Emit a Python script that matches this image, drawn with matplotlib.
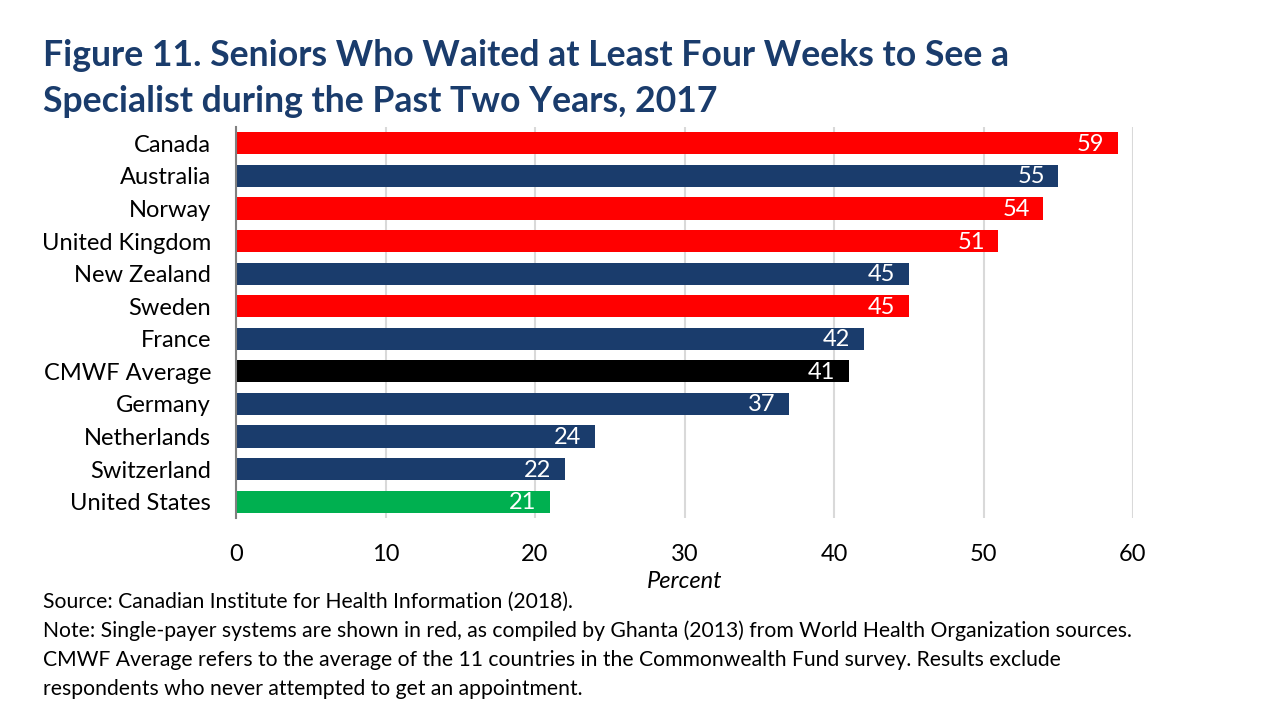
import matplotlib
matplotlib.use("Agg")
import matplotlib.pyplot as plt

plt.rcParams['font.family'] = ['Lato', 'DejaVu Sans']

countries = ["Canada", "Australia", "Norway", "United Kingdom", "New Zealand",
             "Sweden", "France", "CMWF Average", "Germany", "Netherlands",
             "Switzerland", "United States"]
values = [59, 55, 54, 51, 45, 45, 42, 41, 37, 24, 22, 21]
groups = ["single", "other", "single", "single", "other", "single", "other",
          "average", "other", "other", "other", "us"]
xticks = [0, 10, 20, 30, 40, 50, 60]

group_colors = {"single": "#ff0000", "other": "#1a3c6c",
                "average": "#000000", "us": "#00b050"}
navy_text = "#1a3c6c"

W, H = 1284, 722
fig = plt.figure(figsize=(W / 100, H / 100), dpi=100)

# axes placed in pixel coords
left, right, top, bottom = 236, 1133, 127, 518
ax = fig.add_axes([left / W, 1 - bottom / H, (right - left) / W, (bottom - top) / H])

ypos = list(range(len(countries)))
colors = [group_colors[g] for g in groups]
ax.barh(ypos, values, height=0.68, color=colors, zorder=3)

for y, v in zip(ypos, values):
    ax.text(v - 0.9, y + 0.03, str(v), ha="right", va="center", color="white",
            fontsize=17, zorder=4)

ax.set_xlim(0, 60)
ax.set_ylim(len(countries) - 0.5, -0.5)
ax.set_yticks(ypos)
ax.set_yticklabels(countries, fontsize=17)
ax.set_xticks(xticks)
ax.set_xticklabels([str(t) for t in xticks], fontsize=17)
ax.tick_params(axis="y", length=0, pad=18)
ax.tick_params(axis="x", length=0, pad=19)
ax.set_xlabel("Percent", fontsize=17, style="italic", labelpad=4)

ax.grid(axis="x", color="#d9d9d9", linewidth=1.5, zorder=0)
for s in ["top", "right", "bottom"]:
    ax.spines[s].set_visible(False)
ax.spines["left"].set_color("#808080")
ax.spines["left"].set_linewidth(1.5)
ax.spines["left"].set_zorder(5)

# title
fig.text(43 / W, 1 - 55 / H, "Figure 11. Seniors Who Waited at Least Four Weeks to See a",
         fontsize=25.7, fontweight="bold", color=navy_text, va="center", ha="left")
fig.text(43 / W, 1 - 101 / H, "Specialist during the Past Two Years, 2017",
         fontsize=25.7, fontweight="bold", color=navy_text, va="center", ha="left")

# footer
notes = [
    "Source: Canadian Institute for Health Information (2018).",
    "Note: Single-payer systems are shown in red, as compiled by Ghanta (2013) from World Health Organization sources.",
    "CMWF Average refers to the average of the 11 countries in the Commonwealth Fund survey. Results exclude",
    "respondents who never attempted to get an appointment.",
]
for i, line in enumerate(notes):
    fig.text(43 / W, 1 - (602 + i * 29) / H, line, fontsize=15.2, va="center", ha="left")

fig.savefig("out.png", dpi=100)
